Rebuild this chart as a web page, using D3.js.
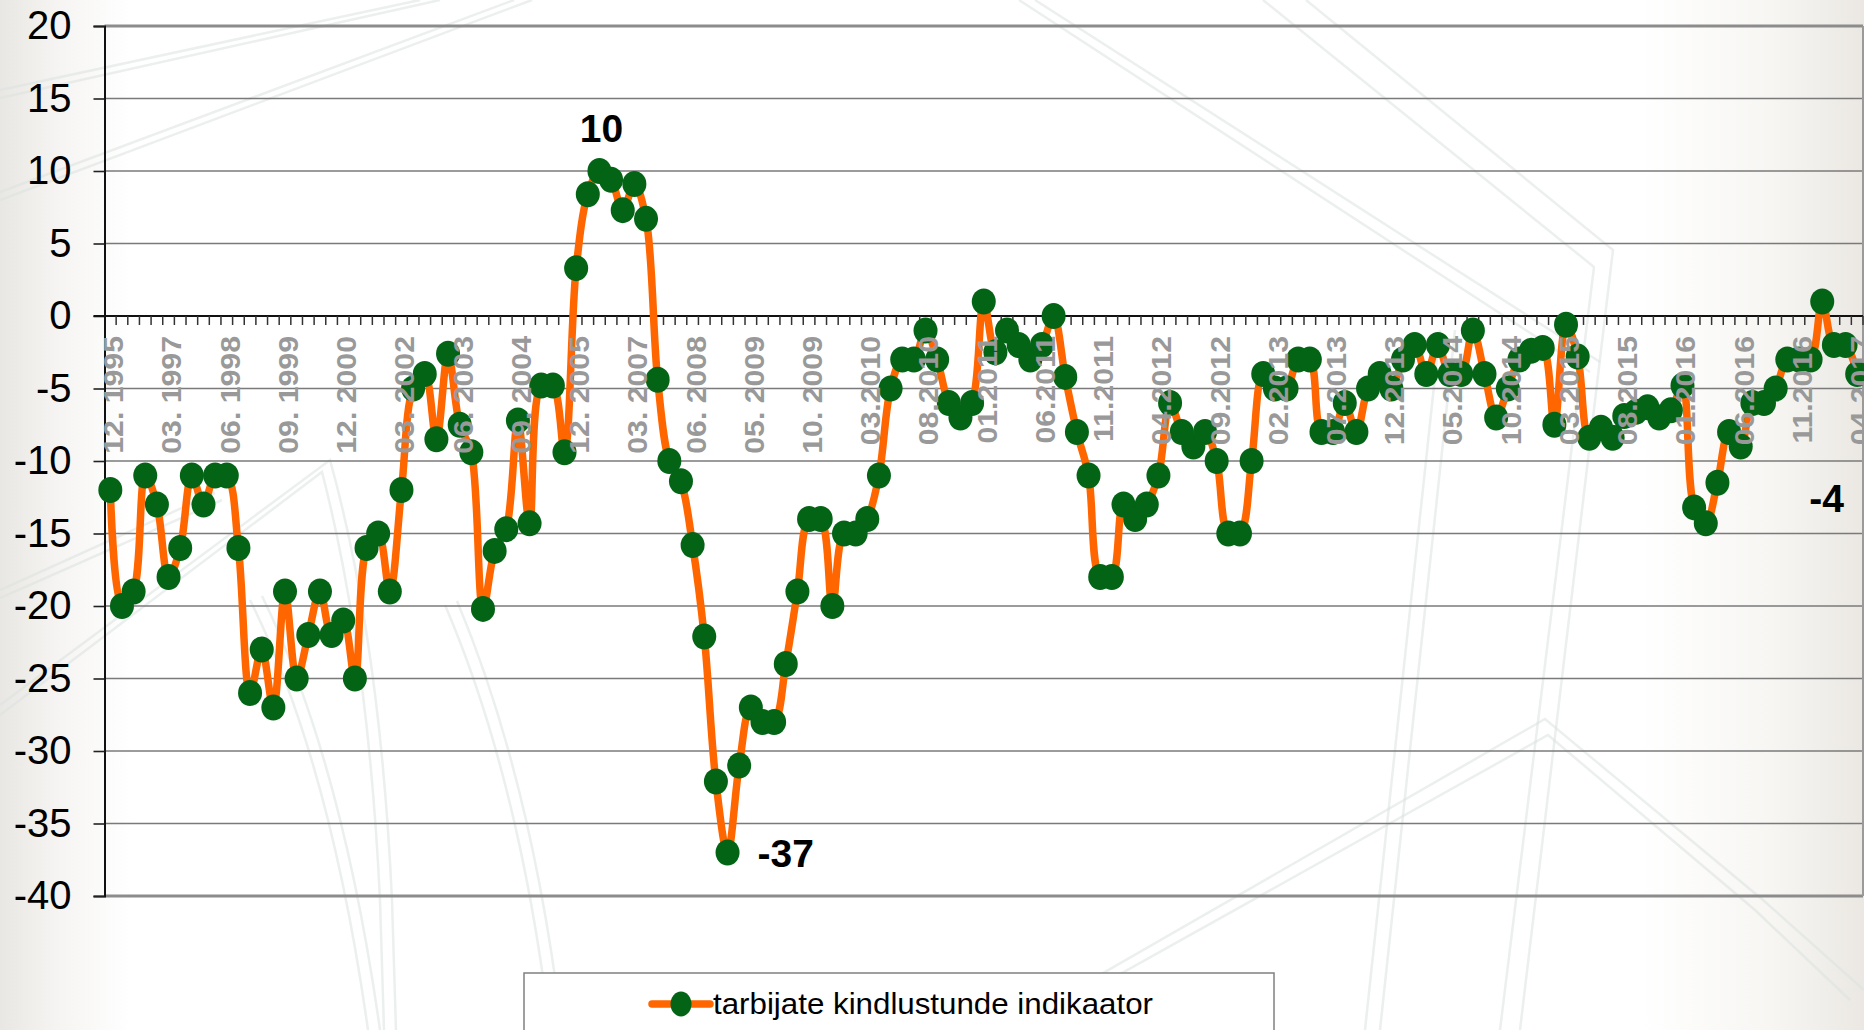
<!DOCTYPE html>
<html>
<head>
<meta charset="utf-8">
<script src="https://cdn.jsdelivr.net/npm/d3@7"></script>
<style>
  html, body { margin: 0; padding: 0; background: #fff; }
  svg { display: block; font-family: "Liberation Sans", Arial, sans-serif; }
</style>
</head>
<body>
<svg id="chart" width="1864" height="1030"></svg>
<script>
// tarbijate kindlustunde indikaator, one value per period (quarterly, later monthly)
const values = [
  -12, -20, -19, -11, -13, -18, -16, -11, -13, -11,
  -11, -16, -26, -23, -27, -19, -25, -22, -19, -22,
  -21, -25, -16, -15, -19, -12, -5, -4, -8.5, -2.6,
  -7.5, -9.4, -20.2, -16.2, -14.7, -7.2, -14.3, -4.8, -4.8, -9.4,
  3.3, 8.4, 10, 9.4, 7.3, 9.1, 6.7, -4.4, -10, -11.4,
  -15.8, -22.1, -32.1, -37, -31, -27, -28, -28, -24, -19,
  -14, -14, -20, -15, -15, -14, -11, -5, -3, -3,
  -1, -3, -6, -7, -6, 1, -2.5, -1, -2, -3,
  -2, 0, -4.2, -8, -11, -18, -18, -13, -14, -13,
  -11, -6, -8, -9, -8, -10, -15, -15, -10, -4,
  -5, -5, -3, -3, -8, -8, -6, -8, -5, -4,
  -5, -3, -2, -4, -2, -4, -4, -1, -4, -7,
  -5, -3, -2.4, -2.2, -7.5, -0.6, -2.8, -8.4, -7.7, -8.4,
  -6.9, -6.6, -6.3, -7, -6.5, -4.8, -13.2, -14.3, -11.5, -8,
  -9, -6, -6, -5, -3, -3, -3, 1, -2, -2,
  -4
];

// every fifth period gets a label
const tickLabels = [
  "12. 1995", "03. 1997", "06. 1998", "09. 1999", "12. 2000", "03. 2002",
  "06. 2003", "09. 2004", "12. 2005", "03. 2007", "06. 2008", "05. 2009",
  "10. 2009", "03.2010", "08.2010", "01.2011", "06.2011", "11.2011",
  "04.2012", "09.2012", "02.2013", "07.2013", "12.2013", "05.2014",
  "10.2014", "03.2015", "08.2015", "01.2016", "06.2016", "11.2016", "04.2017"
];
const labelStep = 5;

const yTicks = [20, 15, 10, 5, 0, -5, -10, -15, -20, -25, -30, -35, -40];

// data labels: [index, text, placement]
const callouts = [
  [42, "10", "above"],
  [53, "-37", "right"],
  [150, "-4", "free"]
];

const seriesName = "tarbijate kindlustunde indikaator";

const svg = d3.select("#chart");
const W = 1864, H = 1030;
const plot = { left: 104.5, right: 1863, top: 26, bottom: 896 };

// background: soft grey at the sides
const defs = svg.append("defs");
const grad = defs.append("linearGradient").attr("id", "bg").attr("x1", 0).attr("x2", 1).attr("y1", 0).attr("y2", 0);
[["0%", "#e9e7e3"], ["3%", "#f5f4f2"], ["7%", "#ffffff"], ["88%", "#ffffff"], ["95%", "#f7f6f3"], ["100%", "#ebe8e3"]]
  .forEach(s => grad.append("stop").attr("offset", s[0]).attr("stop-color", s[1]));
svg.append("rect").attr("width", W).attr("height", H).attr("fill", "url(#bg)");

// faint template lines behind the chart
const decor = [
  "M0,90 L420,0", "M0,98 L440,0",
  "M0,192 L514,0", "M0,200 L532,0",
  "M0,590 L215,493", "M0,598 L222,500",
  "M0,705 L330,460 Q380,640 392,900 L396,1030", "M0,715 L322,472 Q368,650 380,900 L384,1030",
  "M250,600 Q330,760 368,1030", "M262,596 Q342,760 380,1030",
  "M445,605 Q520,780 550,1030", "M457,601 Q532,780 562,1030",
  "M1263,0 L1594,267 L1500,1030", "M1306,0 L1613,250 L1520,1030",
  "M1019,0 L1590,372", "M1035,0 L1600,362",
  "M1440,330 L1365,1030", "M1455,330 L1380,1030",
  "M1004,1030 L1545,719 L1763,900 L1864,990", "M1020,1030 L1548,735 L1755,910 L1850,1000"
];
svg.append("g").selectAll("path").data(decor).join("path")
  .attr("d", d => d)
  .attr("fill", "none")
  .attr("stroke", "#dbe2df")
  .attr("stroke-width", 2.5)
  .attr("opacity", 0.55);

const x = d3.scaleBand()
  .domain(d3.range(values.length))
  .range([plot.left, plot.right])
  .paddingInner(0).paddingOuter(0);
const bw = x.bandwidth();
const cx = i => x(i) + bw / 2;

const y = d3.scaleLinear().domain([-40, 20]).range([plot.bottom, plot.top]);

// horizontal gridlines
svg.append("g").selectAll("line").data(yTicks).join("line")
  .attr("x1", plot.left).attr("x2", plot.right)
  .attr("y1", d => y(d)).attr("y2", d => y(d))
  .attr("stroke", d => (d === 20 || d === -40) ? "#8c8c8c" : "#7a7a7a")
  .attr("stroke-width", d => (d === 20 || d === -40) ? 3 : 1.6);

// right border of plot area
svg.append("line")
  .attr("x1", plot.right).attr("x2", plot.right)
  .attr("y1", plot.top).attr("y2", plot.bottom)
  .attr("stroke", "#9a9a9a").attr("stroke-width", 2);

// y axis
const yAxis = svg.append("g")
  .attr("transform", `translate(${plot.left},0)`)
  .call(d3.axisLeft(y).tickValues(yTicks).tickSize(11).tickPadding(22).tickFormat(d => String(d)));
yAxis.select(".domain").attr("stroke", "#111").attr("stroke-width", 2);
yAxis.selectAll(".tick line").attr("stroke", "#222").attr("stroke-width", 1.6);
yAxis.selectAll(".tick text")
  .attr("font-family", "Liberation Sans, Arial, sans-serif")
  .attr("font-size", 40)
  .attr("fill", "#000");

// category axis on the zero line, ticks between categories
const xAxis = svg.append("g")
  .attr("transform", `translate(0,${y(0)})`);
xAxis.append("line")
  .attr("x1", plot.left - 11).attr("x2", plot.right)
  .attr("stroke", "#111").attr("stroke-width", 2);
xAxis.selectAll("line.mt").data(d3.range(1, values.length + 1)).join("line")
  .attr("class", "mt")
  .attr("x1", i => plot.left + i * bw).attr("x2", i => plot.left + i * bw)
  .attr("y1", 0).attr("y2", 9)
  .attr("stroke", "#333").attr("stroke-width", 1.5);

// series line
const line = d3.line()
  .x((d, i) => cx(i))
  .y(d => y(d))
  .curve(d3.curveCatmullRom.alpha(0.5));

svg.append("path")
  .datum(values)
  .attr("d", line)
  .attr("fill", "none")
  .attr("stroke", "#ff6600")
  .attr("stroke-width", 7.5)
  .attr("stroke-linejoin", "round");

svg.append("g").selectAll("ellipse").data(values).join("ellipse")
  .attr("cx", (d, i) => cx(i))
  .attr("cy", d => y(d))
  .attr("rx", 12).attr("ry", 13)
  .attr("fill", "#036416");

// category labels, drawn over the series
svg.append("g").selectAll("text").data(tickLabels).join("text")
  .attr("transform", (d, k) => `translate(${cx(k * labelStep) + 3},336) rotate(-90) scale(1.1,1)`)
  .attr("text-anchor", "end")
  .attr("dy", "0.36em")
  .attr("font-size", 27.5)
  .attr("font-weight", "bold")
  .attr("fill", "#999999")
  .text(d => d);

// data labels
const cl = svg.append("g")
  .attr("font-size", 39)
  .attr("font-weight", "bold")
  .attr("fill", "#000");
callouts.forEach(([i, txt, where]) => {
  const t = cl.append("text").text(txt);
  if (where === "above") {
    t.attr("x", cx(i) + 2).attr("y", y(values[i]) - 29).attr("text-anchor", "middle");
  } else if (where === "right") {
    t.attr("x", cx(i) + 30).attr("y", y(values[i]) + 14);
  } else {
    t.attr("x", cx(i) - 48).attr("y", y(-13.5));
  }
});

// legend
const lg = svg.append("g");
lg.append("rect")
  .attr("x", 524).attr("y", 973).attr("width", 750).attr("height", 90)
  .attr("fill", "#fff").attr("stroke", "#808080").attr("stroke-width", 1.5);
lg.append("line")
  .attr("x1", 652).attr("x2", 710).attr("y1", 1004).attr("y2", 1004)
  .attr("stroke", "#ff6600").attr("stroke-width", 7.5).attr("stroke-linecap", "round");
lg.append("ellipse")
  .attr("cx", 681).attr("cy", 1004).attr("rx", 10.5).attr("ry", 12.5)
  .attr("fill", "#036416");
lg.append("text")
  .attr("x", 713).attr("y", 1014)
  .attr("font-size", 29)
  .attr("textLength", 440)
  .attr("lengthAdjust", "spacingAndGlyphs")
  .attr("fill", "#000")
  .text(seriesName);
</script>
</body>
</html>
